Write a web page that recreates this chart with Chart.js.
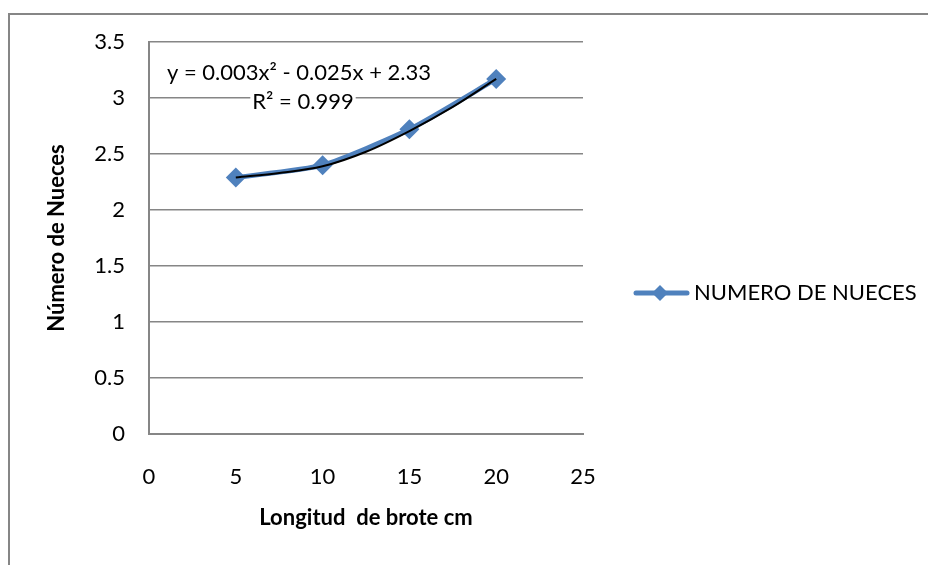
<!DOCTYPE html>
<html>
<head>
<meta charset="utf-8">
<script src="https://cdn.jsdelivr.net/npm/chart.js@4/dist/chart.umd.min.js"></script>
<style>
  html, body { margin: 0; padding: 0; background: #fff; }
  #wrap { width: 928px; height: 565px; position: relative; }
</style>
</head>
<body>
<div id="wrap"><canvas id="chart" width="928" height="565"></canvas></div>
<script>
const seriesLabel = 'NUMERO DE NUECES';
const longitud = [5, 10, 15, 20];
const nueces = [2.29, 2.40, 2.72, 3.17];

// trendline
const trendX = [5, 7.5, 10, 12.5, 15, 17.5, 20];
const trendY = [2.29, 2.33, 2.39, 2.52, 2.705, 2.92, 3.17];

const equationLines = ['y = 0.003x² - 0.025x + 2.33', 'R² = 0.999'];

const blue = '#4F81BD';
const gridGray = '#868686';
const fontFamily = 'Lato, "Open Sans", sans-serif';

const frameAndNotes = {
  id: 'frameAndNotes',
  beforeDraw(chart) {
    const ctx = chart.ctx;
    ctx.save();
    ctx.fillStyle = '#fff';
    ctx.fillRect(0, 0, chart.width, chart.height);
    ctx.fillStyle = gridGray;
    ctx.fillRect(8, 13, chart.width - 8, 2);
    ctx.fillRect(8, 13, 2, chart.height - 13);
    ctx.restore();
  },
  afterDraw(chart) {
    const ctx = chart.ctx;
    ctx.save();
    // equation label
    ctx.font = '22px ' + fontFamily;
    ctx.textBaseline = 'middle';
    const eq = [
      { text: equationLines[0], x: 167, y: 73, align: 'left' },
      { text: equationLines[1], x: 303, y: 102, align: 'center' },
    ];
    eq.forEach((l) => {
      const w = ctx.measureText(l.text).width;
      const left = l.align === 'left' ? l.x : l.x - w / 2;
      ctx.fillStyle = '#fff';
      ctx.fillRect(left - 2, l.y - 12, w + 4, 24);
      ctx.fillStyle = '#000';
      ctx.textAlign = l.align;
      ctx.fillText(l.text, l.x, l.y);
    });
    // legend
    const ly = 293;
    ctx.strokeStyle = blue;
    ctx.lineWidth = 5;
    ctx.lineCap = 'round';
    ctx.beginPath();
    ctx.moveTo(636, ly);
    ctx.lineTo(687, ly);
    ctx.stroke();
    ctx.fillStyle = blue;
    ctx.beginPath();
    ctx.moveTo(660, ly - 8);
    ctx.lineTo(668, ly);
    ctx.lineTo(660, ly + 8);
    ctx.lineTo(652, ly);
    ctx.closePath();
    ctx.fill();
    ctx.fillStyle = '#000';
    ctx.textAlign = 'left';
    ctx.fillText(chart.data.datasets[1].label, 694, ly);
    ctx.restore();
  },
};

new Chart(document.getElementById('chart'), {
  type: 'scatter',
  data: {
    datasets: [
      {
        label: 'Poly. (' + seriesLabel + ')',
        data: trendX.map((x, i) => ({ x, y: trendY[i] })),
        showLine: true,
        borderColor: '#000',
        borderWidth: 2,
        pointRadius: 0,
        cubicInterpolationMode: 'monotone',
      },
      {
        label: seriesLabel,
        data: longitud.map((x, i) => ({ x, y: nueces[i] })),
        showLine: true,
        borderColor: blue,
        backgroundColor: blue,
        borderWidth: 5,
        tension: 0.2,
        pointStyle: 'rectRot',
        pointRadius: 10,
        pointBorderWidth: 0,
      },
    ],
  },
  options: {
    responsive: false,
    animation: false,
    layout: { padding: { left: 0, top: 42, right: 345, bottom: 0 } },
    plugins: {
      legend: { display: false },
      tooltip: { enabled: false },
    },
    scales: {
      x: {
        type: 'linear',
        min: 0,
        max: 25,
        afterFit: (scale) => { scale.height = 131; },
        ticks: { stepSize: 5, padding: 30, color: '#000', font: { family: fontFamily, size: 22 } },
        grid: { display: false, drawTicks: false },
        border: { display: true, color: gridGray, width: 2 },
        title: {
          display: true,
          text: 'Longitud  de brote cm',
          color: '#000',
          font: { family: fontFamily, size: 22, weight: 'bold' },
          padding: { top: 0, bottom: 34 },
        },
      },
      y: {
        min: 0,
        max: 3.5,
        afterFit: (scale) => { scale.width = 149; },
        ticks: {
          stepSize: 0.5,
          padding: 24,
          color: '#000',
          font: { family: fontFamily, size: 22 },
          callback: (v) => String(Math.round(v * 10) / 10),
        },
        grid: { color: gridGray, lineWidth: 1.5, drawTicks: false },
        border: { display: true, color: gridGray, width: 2 },
        title: {
          display: true,
          text: 'Número de Nueces',
          color: '#000',
          font: { family: fontFamily, size: 22, weight: 'bold' },
          padding: { top: 44, bottom: 0 },
        },
      },
    },
  },
  plugins: [frameAndNotes],
});
</script>
</body>
</html>
